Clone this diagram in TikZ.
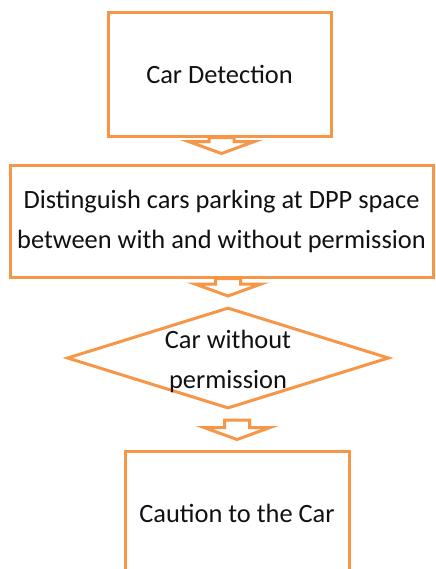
\documentclass[tikz,border=0pt]{standalone}
\usepackage{fontspec}
\setmainfont{Carlito}
\usepackage{tikz}
\usetikzlibrary{shapes,arrows,positioning,calc}
\definecolor{flowOrange}{HTML}{F79646}
\definecolor{flowText}{HTML}{111111}

% block arrow from a point (#1) down to the node (#2)
\newcommand{\flowarrow}[2]{%
    \coordinate (tip) at ($(#2.north)+(0,-10)$);
    \coordinate (top) at (#1 -| tip);
    \draw[blockarrow] ($(top)+(-12.5,0)$) -- ($(tip)+(-12.5,-12)$) -- ($(tip)+(-33,-12)$) -- (tip)
        -- ($(tip)+(33,-12)$) -- ($(tip)+(12.5,-12)$) -- ($(top)+(12.5,0)$) -- cycle;
}

\begin{document}
\begin{tikzpicture}[x=0.5pt, y=-0.5pt,
    stepbox/.style={rectangle, draw=flowOrange, line width=1.5pt, fill=white, align=center, inner sep=0pt,
        text=flowText, font=\fontsize{13.2}{20}\selectfont},
    decision/.style={diamond, draw=flowOrange, line width=1.5pt, fill=white, inner sep=0pt,
        minimum width=161pt, minimum height=50.5pt},
    steptext/.style={align=center, inner sep=0pt, text=flowText, font=\fontsize{13.2}{20}\selectfont},
    blockarrow/.style={draw=flowOrange, line width=1.5pt, fill=white, line join=miter}]
    \useasboundingbox (0,0) rectangle (435,569);

    \node[stepbox, minimum width=111.5pt, minimum height=62pt] (detect) at (219.5,74) {Car Detection};
    \node[stepbox, minimum width=211.5pt, minimum height=56pt] (distinguish) at (221.5,221)
        {Distinguish cars parking at DPP space\\between with and without permission};
    \node[decision] (permit) at (228,358) {};
    \node[steptext] (permit text) at ($(permit)+(0,3)$) {Car without\\permission};
    \node[stepbox, minimum width=112pt, minimum height=62pt] (caution) at (237,513) {Caution to the Car};

    \coordinate (below permit) at ($(permit.south)+(0,10)$);
    \flowarrow{detect.south}{distinguish}
    \flowarrow{distinguish.south}{permit}
    \flowarrow{below permit}{caution}
\end{tikzpicture}
\end{document}
